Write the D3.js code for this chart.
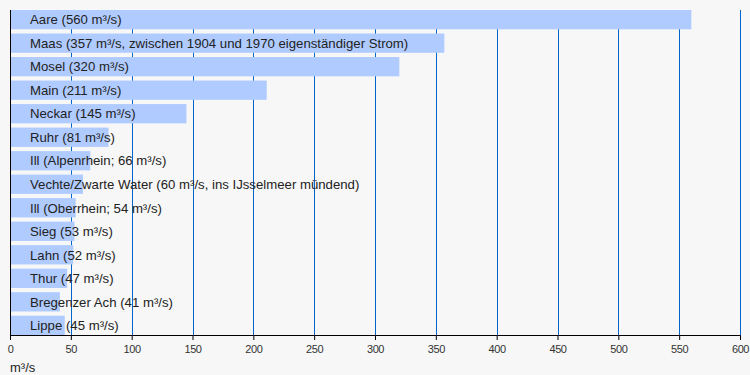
<!DOCTYPE html>
<html>
<head>
<meta charset="utf-8">
<script src="https://cdn.jsdelivr.net/npm/d3@7"></script>
<style>
  body { margin: 0; background: #f7f7f7; }
  svg { display: block; font-family: "Liberation Sans", Arial, sans-serif; }
</style>
</head>
<body>
<svg width="750" height="375"></svg>
<script>
const rivers = ['Aare', 'Maas', 'Mosel', 'Main', 'Neckar', 'Ruhr', 'Ill (Alpenrhein)',
  'Vechte/Zwarte Water', 'Ill (Oberrhein)', 'Sieg', 'Lahn', 'Thur', 'Bregenzer Ach', 'Lippe'];
const flows = [560, 357, 320, 211, 145, 81, 66, 60, 54, 53, 52, 47, 41, 45];
const labels = [
  'Aare (560 m³/s)',
  'Maas (357 m³/s, zwischen 1904 und 1970 eigenständiger Strom)',
  'Mosel (320 m³/s)',
  'Main (211 m³/s)',
  'Neckar (145 m³/s)',
  'Ruhr (81 m³/s)',
  'Ill (Alpenrhein; 66 m³/s)',
  'Vechte/Zwarte Water (60 m³/s, ins IJsselmeer mündend)',
  'Ill (Oberrhein; 54 m³/s)',
  'Sieg (53 m³/s)',
  'Lahn (52 m³/s)',
  'Thur (47 m³/s)',
  'Bregenzer Ach (41 m³/s)',
  'Lippe (45 m³/s)'
];
const xTicks = [0, 50, 100, 150, 200, 250, 300, 350, 400, 450, 500, 550, 600];

const data = rivers.map((r, i) => ({ river: r, flow: flows[i], label: labels[i] }));

const svg = d3.select('svg');
const margin = { top: 10, right: 10, bottom: 40, left: 10 };
const width = +svg.attr('width');
const height = +svg.attr('height');
const innerWidth = width - margin.left - margin.right;
const innerHeight = height - margin.top - margin.bottom;

svg.append('rect').attr('width', width).attr('height', height).attr('fill', '#f7f7f7');

const xScale = d3.scaleLinear().domain([0, 600]).range([0, innerWidth]);
const yScale = d3.scaleBand()
  .domain(rivers)
  .range([0, innerHeight])
  .paddingInner(0.18)
  .paddingOuter(0);

const g = svg.append('g').attr('transform', `translate(${margin.left}, ${margin.top})`);

// grid lines behind the bars
g.selectAll('.grid').data(xTicks.slice(1)).enter().append('line')
  .attr('x1', d => Math.round(xScale(d)) + 0.5)
  .attr('x2', d => Math.round(xScale(d)) + 0.5)
  .attr('y1', 0)
  .attr('y2', innerHeight)
  .attr('stroke', '#0066cc')
  .attr('stroke-width', 1);

g.selectAll('.bar').data(data).enter().append('rect')
  .attr('x', 0)
  .attr('y', d => yScale(d.river))
  .attr('width', d => xScale(d.flow))
  .attr('height', yScale.bandwidth())
  .attr('fill', '#b0cbff');

g.selectAll('.lbl').data(data).enter().append('text')
  .attr('x', 20)
  .attr('y', d => yScale(d.river) + yScale.bandwidth() / 2)
  .attr('dy', '0.36em')
  .attr('font-size', 13.2)
  .attr('fill', '#222')
  .text(d => d.label);

// left axis line
g.append('line')
  .attr('x1', 0.5).attr('x2', 0.5)
  .attr('y1', 0).attr('y2', innerHeight)
  .attr('stroke', '#000');

const xAxis = d3.axisBottom(xScale).tickValues(xTicks).tickSize(5).tickPadding(5);
const ax = g.append('g').attr('transform', `translate(0, ${innerHeight})`).call(xAxis);
ax.select('.domain').attr('stroke', '#000');
ax.selectAll('.tick line').attr('stroke', '#000');
ax.selectAll('.tick text')
  .attr('font-size', 11)
  .attr('letter-spacing', -0.4)
  .attr('fill', '#333')
  .attr('font-family', '"Liberation Sans", Arial, sans-serif');

svg.append('text')
  .attr('x', 10)
  .attr('y', 372)
  .attr('font-size', 13)
  .attr('fill', '#222')
  .text('m³/s');
</script>
</body>
</html>
